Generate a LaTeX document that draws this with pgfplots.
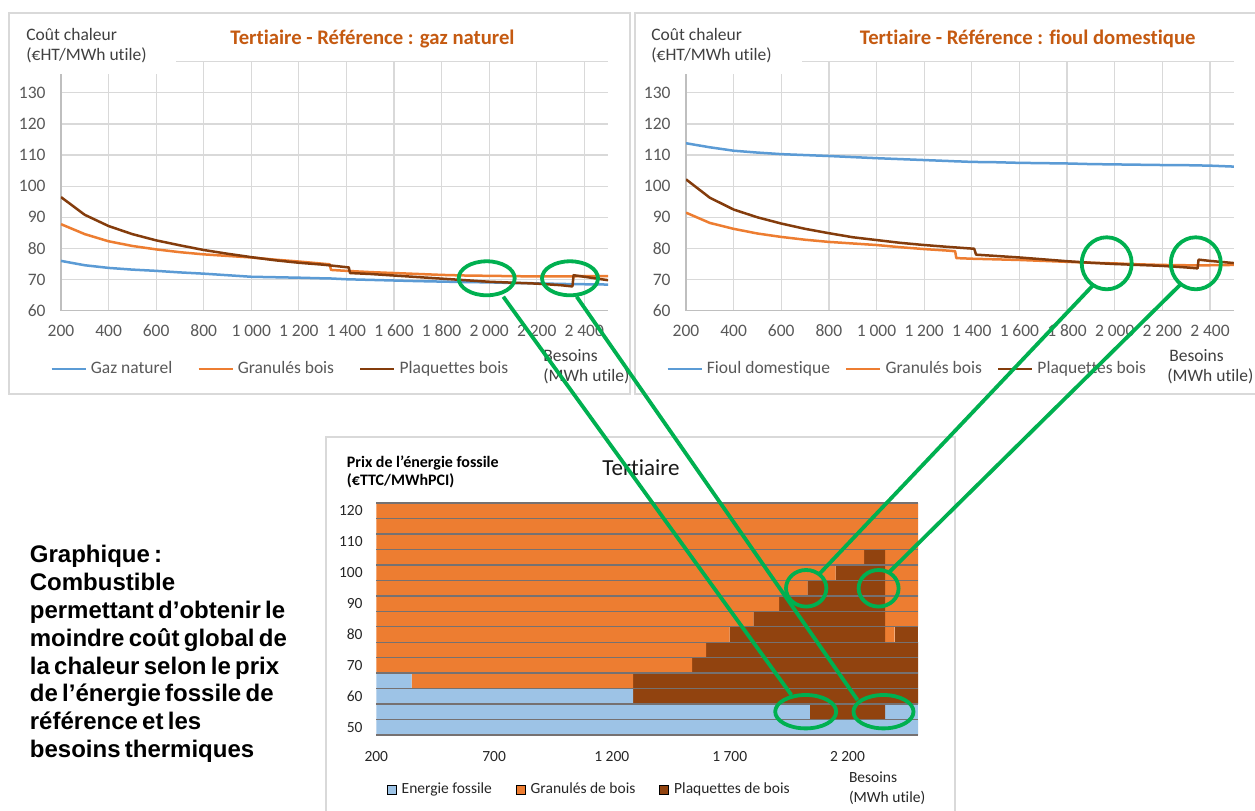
\documentclass[border=0pt]{standalone}
\usepackage{pgfplots}
\pgfplotsset{compat=1.18}
\usepackage{pgfplotstable}
\usepackage{fontspec}
\setmainfont{Carlito}[Ligatures=NoCommon]
\newfontfamily\arialfont{Liberation Sans}

\definecolor{gazc}{HTML}{5B9BD5}
\definecolor{granc}{HTML}{ED7D31}
\definecolor{plaqc}{HTML}{843C0C}
\definecolor{barplaq}{HTML}{91430F}
\definecolor{fossc}{HTML}{9DC3E6}
\definecolor{titlec}{HTML}{C55A11}
\definecolor{tickc}{HTML}{595959}
\definecolor{labc}{HTML}{404040}
\definecolor{gridc}{HTML}{D9D9D9}
\definecolor{axc}{HTML}{BFBFBF}
\definecolor{framec}{HTML}{D9D9D9}
\definecolor{sepc}{HTML}{767171}
\definecolor{hilite}{HTML}{00B050}

\newcommand\fA{\fontsize{8.75pt}{10.5pt}\selectfont}
\newcommand\fT{\fontsize{10.35pt}{12pt}\selectfont\bfseries}
\newcommand\fB{\fontsize{7.75pt}{9.3pt}\selectfont}
\newcommand\fBb{\fontsize{8pt}{9.6pt}\selectfont\bfseries}
\newcommand\fTT{\fontsize{11.5pt}{13.8pt}\selectfont}
\newcommand\fL{\arialfont\bfseries\fontsize{12pt}{13.9pt}\selectfont\spaceskip=0.18em plus 0.05em}
\newcommand\ts{\hspace{0.22em}}

% Heat cost (EUR HT / MWh utile) versus needs (MWh utile), reference: natural gas
\pgfplotstableread{
x    gaz    gran   
200  76.0   87.8
300  74.6   84.6
400  73.75  82.3
500  73.2   80.8
600  72.8   79.7
700  72.3   78.8
800  71.9   78.1
900  71.4   77.6
1000 70.9   77.1
1100 70.75  76.4
1200 70.6   75.8
1300 70.4   75.1
1330 70.35  74.9
1335 70.35  73.1
1400 70.1   72.8
1500 69.9   72.4
1600 69.7   72.1
1700 69.5   71.8
1800 69.35  71.5
1900 69.2   71.3
2000 69.1   71.2
2100 68.9   71.1
2200 68.8   71.0
2300 68.6   71.0
2400 68.5   71.1
2500 68.4   71.1
}\gazL
\pgfplotstableread{
x    plaq
200  96.5
300  90.8
400  87.2
500  84.6
600  82.6
700  81.0
800  79.5
900  78.3
1000 77.2
1100 76.2
1200 75.4
1300 74.8
1410 73.9
1415 72.1
1500 71.8
1600 71.3
1700 70.8
1800 70.3
1900 69.8
2000 69.3
2100 69.0
2200 68.7
2300 68.2
2350 67.8
2355 71.4
2400 70.9
2500 69.8
}\plaqL

% Reference: domestic fuel oil
\pgfplotstableread{
x    fioul  gran
200  113.8  91.5
300  112.5  88.2
400  111.4  86.3
500  110.8  84.8
600  110.3  83.7
700  110.0  82.8
800  109.7  82.1
900  109.35 81.6
1000 109.0  81.1
1100 108.7  80.4
1200 108.4  79.8
1300 108.1  79.3
1330 108.0  79.1
1335 108.0  76.9
1400 107.8  76.7
1500 107.7  76.5
1600 107.5  76.3
1700 107.4  76.0
1800 107.3  75.7
1900 107.1  75.4
2000 107.0  75.2
2100 106.9  74.9
2200 106.8  74.7
2300 106.75 74.6
2400 106.6  74.6
2500 106.3  74.7
}\fioulR
\pgfplotstableread{
x    plaq
200  102.2
300  96.3
400  92.5
500  90.0
600  88.0
700  86.3
800  84.9
900  83.6
1000 82.7
1100 81.8
1200 81.1
1300 80.5
1410 79.9
1418 78.0
1500 77.6
1600 77.1
1700 76.5
1800 75.9
1900 75.4
2000 75.0
2100 74.7
2200 74.4
2300 73.9
2348 73.6
2352 76.4
2400 76.0
2500 75.3
}\plaqR

% Cheapest fuel per fossil price row: successive segment lengths along the needs axis
% S1 fossil, S2 pellets, S3 chips, S4 pellets, S5 fossil, S6 chips
\pgfplotstableread{
p    S1    S2    S3    S4   S5   S6
50   2500  0     0     0    0    0
55   2040  0     320   0    140  0
60   1290  0     1210  0    0    0
65   350   940   1210  0    0    0
70   0     1540  960   0    0    0
75   0     1600  900   0    0    0
80   0     1700  660   40   0    100
85   0     1800  560   140  0    0
90   0     1910  450   140  0    0
95   0     2030  330   140  0    0
100  0     2150  210   140  0    0
105  0     2270  90    140  0    0
110  0     2500  0     0    0    0
115  0     2500  0     0    0    0
120  0     2500  0     0    0    0
}\prix

\pgfplotsset{
  costaxis/.style={
    scale only axis, height=124.5pt,
    xmin=200, xmax=2500, ymin=60, ymax=140,
    xtick={200,400,...,2400},
    xticklabels={200,400,600,800,1\ts000,1\ts200,1\ts400,1\ts600,1\ts800,2\ts000,2\ts200,2\ts400},
    ytick={60,70,...,140},
    yticklabels={60,70,80,90,100,110,120,130,{}},
    axis x line*=bottom, axis y line*=left,
    axis line style={-, draw=axc, line width=0.6pt},
    grid=major, major grid style={draw=gridc, line width=0.6pt},
    major tick length=0pt,
    tick label style={font=\fA, text=tickc, inner sep=0pt},
    xticklabel style={anchor=base, yshift=-13.15pt},
    yticklabel style={anchor=east, xshift=-7.5pt},
    legend columns=3,
    legend image code/.code={\draw[##1] (0pt,0pt) -- (17pt,0pt);},
    legend style={draw=none, fill=none, font=\fA, text=tickc, inner sep=0pt,
      anchor=west, nodes={inner sep=0pt},
      /tikz/every odd column/.append style={column sep=2pt}},
    every axis plot/.append style={line width=1.25pt, line join=round},
  },
}

\begin{document}
\begin{tikzpicture}
\useasboundingbox (0,0) rectangle (627.5pt,405pt);
\fill[white] (0,0) rectangle (627.5pt,405pt);

\begin{scope}[x=0.5pt, y=-0.5pt, yshift=405pt]
  \draw[framec, line width=1pt] (8.5,13.5) rectangle (629.5,394);
  \draw[framec, line width=1pt] (635,13.5) rectangle (1258,394);
  \draw[framec, line width=1pt] (326,437.5) rectangle (954.5,815);
\end{scope}

% Heat cost, natural gas reference
\begin{axis}[costaxis, width=273.55pt, at={(30.5pt,249.65pt)}, anchor=south west,
  legend style={at={(-0.0201,-0.2341)},
    /tikz/every even column/.append style={column sep=12.5pt}}]
  \addplot[gazc] table[x=x, y=gaz] {\gazL};
  \addplot[granc] table[x=x, y=gran] {\gazL};
  \addplot[plaqc] table[x=x, y=plaq] {\plaqL};
  \legend{Gaz naturel, Granulés bois, Plaquettes bois}
\end{axis}

% Heat cost, domestic fuel oil reference
\begin{axis}[costaxis, width=273.9pt, at={(343pt,249.65pt)}, anchor=south west,
  legend style={at={(-0.0365,-0.2341)},
    /tikz/every even column/.append style={column sep=7.5pt}}]
  \addplot[gazc] table[x=x, y=fioul] {\fioulR};
  \addplot[granc] table[x=x, y=gran] {\fioulR};
  \addplot[plaqc] table[x=x, y=plaq] {\plaqR};
  \legend{Fioul domestique, Granulés bois, Plaquettes bois}
\end{axis}

% Cheapest fuel map
\begin{axis}[scale only axis, width=270.95pt, height=116pt,
  at={(188.15pt,37.5pt)}, anchor=south west,
  xbar stacked, bar width=5,
  xmin=200, xmax=2500, ymin=47.5, ymax=122.5,
  xtick={200,700,1200,1700,2200},
  xticklabels={200,700,1\ts200,1\ts700,2\ts200},
  ytick={50,60,...,120},
  yticklabels={50,60,70,80,90,100,110,120},
  minor ytick={47.5,52.5,...,122.5},
  yminorgrids=true, minor grid style={draw=sepc, line width=0.7pt},
  axis on top,
  axis line style={draw=none},
  major tick length=0pt, minor tick length=0pt,
  tick label style={font=\fB, text=black!85, inner sep=0pt},
  xticklabel style={anchor=base, yshift=-13.25pt},
  yticklabel style={anchor=east, xshift=-6.65pt},
  legend columns=3,
  legend image code/.code={\draw[#1] (0pt,-2.25pt) rectangle (4.5pt,2.25pt);},
  legend style={at={(0.0188,-0.237)}, anchor=west, draw=none, fill=none,
    font=\fB, text=black!85, inner sep=0pt, nodes={inner sep=0pt},
    /tikz/every odd column/.append style={column sep=2.5pt},
    /tikz/every even column/.append style={column sep=12pt}},
]
  \addplot[fill=fossc, draw=none] table[x=S1, y=p] {\prix};
  \addplot[fill=granc, draw=none] table[x=S2, y=p] {\prix};
  \addplot[fill=barplaq, draw=none] table[x=S3, y=p] {\prix};
  \addplot[fill=granc, draw=none] table[x=S4, y=p] {\prix};
  \addplot[fill=fossc, draw=none] table[x=S5, y=p] {\prix};
  \addplot[fill=barplaq, draw=none] table[x=S6, y=p] {\prix};
  \legend{Energie fossile, Granulés de bois, Plaquettes de bois}
\end{axis}

\begin{scope}[x=0.5pt, y=-0.5pt, yshift=405pt, every node/.style={inner sep=0pt}]
  % clear the grid behind the axis titles
  \fill[white] (52,48) rectangle (176,74);
  \fill[white] (677,48) rectangle (802,74);

  \node[anchor=base west, font=\fA, text=labc] at (26,41) {Coût chaleur};
  \node[anchor=base west, font=\fA, text=labc] at (26,61) {(€HT/MWh utile)};
  \node[anchor=base, font=\fT, text=titlec] at (372.5,45) {Tertiaire - Référence : gaz naturel};
  \node[anchor=base west, font=\fA, text=labc] at (543,362) {Besoins};
  \node[anchor=base west, font=\fA, text=labc] at (543,382) {(MWh utile)};

  \node[anchor=base west, font=\fA, text=labc] at (651,41) {Coût chaleur};
  \node[anchor=base west, font=\fA, text=labc] at (651,61) {(€HT/MWh utile)};
  \node[anchor=base, font=\fT, text=titlec] at (1027.7,45) {Tertiaire - Référence : fioul domestique};
  \node[anchor=base west, font=\fA, text=labc] at (1169,362) {Besoins};
  \node[anchor=base west, font=\fA, text=labc] at (1167,382) {(MWh utile)};

  \node[anchor=base west, font=\fBb] at (346.5,467.5) {Prix de l'énergie fossile};
  \node[anchor=base west, font=\fBb] at (346.5,486) {(€TTC/MWhPCI)};
  \node[anchor=base, font=\fTT, text=black!90] at (641,476) {Tertiaire};
  \node[anchor=base west, font=\fB, text=black!85] at (848.6,783) {Besoins};
  \node[anchor=base west, font=\fB, text=black!85] at (848.6,802) {(MWh utile)};

  \foreach \t [count=\i from 0] in {Graphique :, Combustible,
      permettant d’obtenir le, moindre coût global de,
      la chaleur selon le prix, de l’énergie fossile de,
      référence et les, besoins thermiques}
    \node[anchor=base west, font=\fL] at (29.5,563+27.8*\i) {\t};

  % highlighted crossings and their links to the map
  \begin{scope}[draw=hilite, line width=1.9pt]
    \draw (486.7,278.3) ellipse [x radius=28, y radius=17];
    \draw (570,278.3) ellipse [x radius=28, y radius=17];
    \draw (1106.7,263.3) ellipse [x radius=25, y radius=26];
    \draw (1195.8,263.3) ellipse [x radius=25, y radius=26];
    \draw (805.7,711.7) ellipse [x radius=30.5, y radius=16.7];
    \draw (883.5,711.7) ellipse [x radius=30, y radius=16.7];
    \draw (806.2,588.3) ellipse [x radius=20.2, y radius=18.3];
    \draw (878.6,588.3) ellipse [x radius=20, y radius=18.3];
    \draw (503.3,296.7) -- (791.4,695);
    \draw (576.7,296.7) -- (857.5,700);
    \draw (1093.3,285) -- (820,573.3);
    \draw (1180,285) -- (889.6,571.7);
  \end{scope}
\end{scope}
\end{tikzpicture}
\end{document}
